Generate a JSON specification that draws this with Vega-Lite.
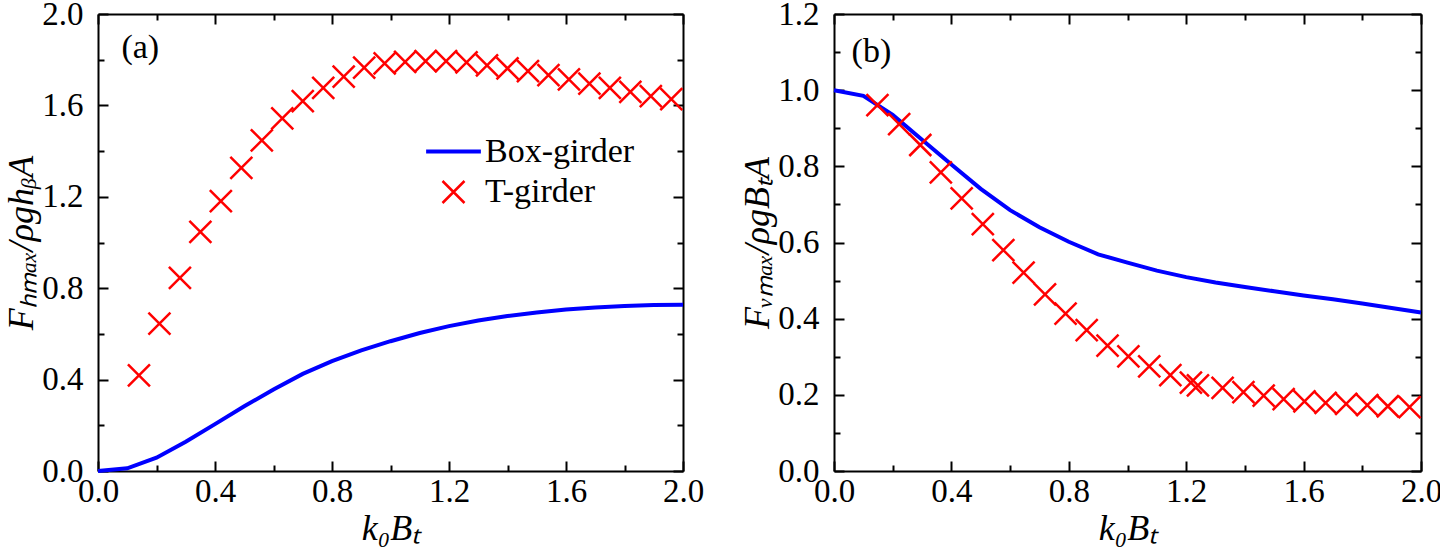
{
  "$schema": "https://vega.github.io/schema/vega-lite/v6.json",
  "padding": {"left": 3, "top": -2, "right": 18, "bottom": 4},
  "background": "white",
  "config": {
    "font": "Liberation Serif",
    "view": {"stroke": null},
    "axis": {
      "grid": false,
      "domainColor": "black",
      "domainWidth": 2,
      "tickColor": "black",
      "tickWidth": 2,
      "labelFont": "Liberation Serif",
      "labelFontSize": 33,
      "labelColor": "black",
      "labelFlush": false,
      "labelOverlap": false,
      "titleFont": "Liberation Serif",
      "titleFontSize": 36,
      "titleFontStyle": "italic",
      "titleFontWeight": "normal",
      "titleColor": "black"
    },
    "legend": {
      "labelFont": "Liberation Serif",
      "labelFontSize": 34,
      "labelColor": "black",
      "labelLimit": 400
    }
  },
  "datasets": {
    "box_a": [
      {"x": 0.0, "y": 0.0, "series": "Box-girder"},
      {"x": 0.1, "y": 0.012, "series": "Box-girder"},
      {"x": 0.2, "y": 0.058, "series": "Box-girder"},
      {"x": 0.3, "y": 0.128, "series": "Box-girder"},
      {"x": 0.4, "y": 0.205, "series": "Box-girder"},
      {"x": 0.5, "y": 0.283, "series": "Box-girder"},
      {"x": 0.6, "y": 0.357, "series": "Box-girder"},
      {"x": 0.7, "y": 0.425, "series": "Box-girder"},
      {"x": 0.8, "y": 0.481, "series": "Box-girder"},
      {"x": 0.9, "y": 0.528, "series": "Box-girder"},
      {"x": 1.0, "y": 0.568, "series": "Box-girder"},
      {"x": 1.1, "y": 0.604, "series": "Box-girder"},
      {"x": 1.2, "y": 0.634, "series": "Box-girder"},
      {"x": 1.3, "y": 0.659, "series": "Box-girder"},
      {"x": 1.4, "y": 0.678, "series": "Box-girder"},
      {"x": 1.5, "y": 0.694, "series": "Box-girder"},
      {"x": 1.6, "y": 0.707, "series": "Box-girder"},
      {"x": 1.7, "y": 0.716, "series": "Box-girder"},
      {"x": 1.8, "y": 0.722, "series": "Box-girder"},
      {"x": 1.9, "y": 0.726, "series": "Box-girder"},
      {"x": 2.0, "y": 0.728, "series": "Box-girder"}
    ],
    "t_a": [
      {"x": 0.14, "y": 0.418, "series": "T-girder"},
      {"x": 0.21, "y": 0.645, "series": "T-girder"},
      {"x": 0.28, "y": 0.845, "series": "T-girder"},
      {"x": 0.35, "y": 1.047, "series": "T-girder"},
      {"x": 0.42, "y": 1.181, "series": "T-girder"},
      {"x": 0.49, "y": 1.327, "series": "T-girder"},
      {"x": 0.56, "y": 1.447, "series": "T-girder"},
      {"x": 0.63, "y": 1.543, "series": "T-girder"},
      {"x": 0.70, "y": 1.619, "series": "T-girder"},
      {"x": 0.77, "y": 1.677, "series": "T-girder"},
      {"x": 0.84, "y": 1.726, "series": "T-girder"},
      {"x": 0.91, "y": 1.765, "series": "T-girder"},
      {"x": 0.98, "y": 1.784, "series": "T-girder"},
      {"x": 1.05, "y": 1.790, "series": "T-girder"},
      {"x": 1.12, "y": 1.794, "series": "T-girder"},
      {"x": 1.19, "y": 1.794, "series": "T-girder"},
      {"x": 1.26, "y": 1.788, "series": "T-girder"},
      {"x": 1.33, "y": 1.775, "series": "T-girder"},
      {"x": 1.40, "y": 1.762, "series": "T-girder"},
      {"x": 1.47, "y": 1.750, "series": "T-girder"},
      {"x": 1.54, "y": 1.733, "series": "T-girder"},
      {"x": 1.61, "y": 1.714, "series": "T-girder"},
      {"x": 1.68, "y": 1.695, "series": "T-girder"},
      {"x": 1.75, "y": 1.677, "series": "T-girder"},
      {"x": 1.82, "y": 1.659, "series": "T-girder"},
      {"x": 1.89, "y": 1.641, "series": "T-girder"},
      {"x": 1.96, "y": 1.627, "series": "T-girder"}
    ],
    "box_b": [
      {"x": 0.0, "y": 1.0},
      {"x": 0.1, "y": 0.985},
      {"x": 0.2, "y": 0.935},
      {"x": 0.3, "y": 0.870},
      {"x": 0.4, "y": 0.805},
      {"x": 0.5, "y": 0.741},
      {"x": 0.6, "y": 0.685},
      {"x": 0.7, "y": 0.640},
      {"x": 0.8, "y": 0.602},
      {"x": 0.9, "y": 0.569},
      {"x": 1.0, "y": 0.547},
      {"x": 1.1, "y": 0.526},
      {"x": 1.2, "y": 0.509},
      {"x": 1.3, "y": 0.495},
      {"x": 1.4, "y": 0.483},
      {"x": 1.5, "y": 0.472},
      {"x": 1.6, "y": 0.461},
      {"x": 1.7, "y": 0.451},
      {"x": 1.8, "y": 0.440},
      {"x": 1.9, "y": 0.428},
      {"x": 2.0, "y": 0.416}
    ],
    "t_b": [
      {"x": 0.148, "y": 0.961},
      {"x": 0.222, "y": 0.911},
      {"x": 0.294, "y": 0.856},
      {"x": 0.364, "y": 0.784},
      {"x": 0.435, "y": 0.716},
      {"x": 0.507, "y": 0.648},
      {"x": 0.577, "y": 0.580},
      {"x": 0.646, "y": 0.521},
      {"x": 0.719, "y": 0.464},
      {"x": 0.789, "y": 0.413},
      {"x": 0.861, "y": 0.370},
      {"x": 0.932, "y": 0.329},
      {"x": 1.003, "y": 0.301},
      {"x": 1.074, "y": 0.275},
      {"x": 1.146, "y": 0.252},
      {"x": 1.216, "y": 0.232},
      {"x": 1.240, "y": 0.225},
      {"x": 1.324, "y": 0.218},
      {"x": 1.395, "y": 0.207},
      {"x": 1.464, "y": 0.198},
      {"x": 1.532, "y": 0.189},
      {"x": 1.603, "y": 0.183},
      {"x": 1.675, "y": 0.179},
      {"x": 1.745, "y": 0.176},
      {"x": 1.817, "y": 0.173},
      {"x": 1.887, "y": 0.170},
      {"x": 1.961, "y": 0.168}
    ],
    "label_a": [{"x": 0.08, "y": 1.85, "t": "(a)"}],
    "label_b": [{"x": 0.06, "y": 1.1, "t": "(b)"}]
  },
  "hconcat": [
    {
      "width": 585,
      "height": 457,
      "layer": [
        {
          "data": {"name": "box_a"},
          "mark": {"type": "line", "strokeWidth": 4},
          "encoding": {
            "x": {
              "field": "x", "type": "quantitative",
              "scale": {"domain": [0, 2], "nice": false, "zero": false},
              "axis": {
                "orient": "bottom",
                "values": [0, 0.2, 0.4, 0.6, 0.8, 1.0, 1.2, 1.4, 1.6, 1.8, 2.0],
                "labelExpr": "round(datum.value*10)%4==0 ? format(datum.value, '.1f') : ''",
                "tickSize": {"condition": {"test": "round(datum.value*10)%4==0", "value": -10}, "value": -6},
                "labelPadding": 14,
                "title": "k₀Bₜ",
                "titlePadding": -1
              }
            },
            "y": {
              "field": "y", "type": "quantitative",
              "scale": {"domain": [0, 2], "nice": false, "zero": false},
              "axis": {
                "orient": "left",
                "values": [0, 0.2, 0.4, 0.6, 0.8, 1.0, 1.2, 1.4, 1.6, 1.8, 2.0],
                "labelExpr": "round(datum.value*10)%4==0 ? format(datum.value, '.1f') : ''",
                "tickSize": {"condition": {"test": "round(datum.value*10)%4==0", "value": -10}, "value": -6},
                "labelPadding": 25,
                "title": "Fₕₘₐₓ/ρghᵦA",
                "titlePadding": 1
              }
            },
            "color": {
              "field": "series", "type": "nominal",
              "scale": {"domain": ["Box-girder", "T-girder"], "range": ["#0000ff", "#ff0000"]},
              "legend": {"title": null, "orient": "none", "legendX": 326, "legendY": 108, "rowPadding": 6, "labelOffset": 2}
            }
          }
        },
        {
          "data": {"name": "t_a"},
          "mark": {"type": "point", "filled": false, "opacity": 1},
          "encoding": {
            "x": {
              "field": "x", "type": "quantitative",
              "scale": {"domain": [0, 2], "nice": false, "zero": false},
              "axis": {
                "orient": "top",
                "values": [0, 0.2, 0.4, 0.6, 0.8, 1.0, 1.2, 1.4, 1.6, 1.8, 2.0],
                "labels": false,
                "tickSize": {"condition": {"test": "round(datum.value*10)%4==0", "value": -10}, "value": -6},
                "title": null
              }
            },
            "y": {
              "field": "y", "type": "quantitative",
              "scale": {"domain": [0, 2], "nice": false, "zero": false},
              "axis": {
                "orient": "right",
                "values": [0, 0.2, 0.4, 0.6, 0.8, 1.0, 1.2, 1.4, 1.6, 1.8, 2.0],
                "labels": false,
                "tickSize": {"condition": {"test": "round(datum.value*10)%4==0", "value": -10}, "value": -6},
                "title": null
              }
            },
            "color": {
              "field": "series", "type": "nominal",
              "scale": {"domain": ["Box-girder", "T-girder"], "range": ["#0000ff", "#ff0000"]}
            },
            "shape": {
              "field": "series", "type": "nominal",
              "scale": {"domain": ["Box-girder", "T-girder"], "range": ["stroke", "M-1,-1L1,1M-1,1L1,-1"]}
            },
            "size": {
              "field": "series", "type": "nominal",
              "scale": {"domain": ["Box-girder", "T-girder"], "range": [3000, 484]}
            },
            "strokeWidth": {
              "field": "series", "type": "nominal",
              "scale": {"domain": ["Box-girder", "T-girder"], "range": [4, 2.5]}
            }
          }
        },
        {
          "data": {"name": "label_a"},
          "mark": {"type": "text", "align": "left", "baseline": "middle", "fontSize": 34, "font": "Liberation Serif", "color": "black"},
          "encoding": {
            "x": {"field": "x", "type": "quantitative", "axis": null},
            "y": {"field": "y", "type": "quantitative", "axis": null},
            "text": {"field": "t"}
          }
        }
      ],
      "resolve": {"axis": {"x": "independent", "y": "independent"}}
    },
    {
      "width": 587,
      "height": 457,
      "layer": [
        {
          "data": {"name": "box_b"},
          "mark": {"type": "line", "strokeWidth": 4, "color": "#0000ff"},
          "encoding": {
            "x": {
              "field": "x", "type": "quantitative",
              "scale": {"domain": [0, 2], "nice": false, "zero": false},
              "axis": {
                "orient": "bottom",
                "values": [0, 0.2, 0.4, 0.6, 0.8, 1.0, 1.2, 1.4, 1.6, 1.8, 2.0],
                "labelExpr": "round(datum.value*10)%4==0 ? format(datum.value, '.1f') : ''",
                "tickSize": {"condition": {"test": "round(datum.value*10)%4==0", "value": -10}, "value": -6},
                "labelPadding": 14,
                "title": "k₀Bₜ",
                "titlePadding": -1
              }
            },
            "y": {
              "field": "y", "type": "quantitative",
              "scale": {"domain": [0, 1.2], "nice": false, "zero": false},
              "axis": {
                "orient": "left",
                "values": [0, 0.1, 0.2, 0.3, 0.4, 0.5, 0.6, 0.7, 0.8, 0.9, 1.0, 1.1, 1.2],
                "labelExpr": "round(datum.value*10)%2==0 ? format(datum.value, '.1f') : ''",
                "tickSize": {"condition": {"test": "round(datum.value*10)%2==0", "value": -10}, "value": -6},
                "labelPadding": 25,
                "title": "Fᵥₘₐₓ/ρgBₜA",
                "titlePadding": 1
              }
            }
          }
        },
        {
          "data": {"name": "t_b"},
          "mark": {"type": "point", "filled": false, "opacity": 1, "shape": "M-1,-1L1,1M-1,1L1,-1", "size": 484, "strokeWidth": 2.5, "color": "#ff0000"},
          "encoding": {
            "x": {
              "field": "x", "type": "quantitative",
              "scale": {"domain": [0, 2], "nice": false, "zero": false},
              "axis": {
                "orient": "top",
                "values": [0, 0.2, 0.4, 0.6, 0.8, 1.0, 1.2, 1.4, 1.6, 1.8, 2.0],
                "labels": false,
                "tickSize": {"condition": {"test": "round(datum.value*10)%4==0", "value": -10}, "value": -6},
                "title": null
              }
            },
            "y": {
              "field": "y", "type": "quantitative",
              "scale": {"domain": [0, 1.2], "nice": false, "zero": false},
              "axis": {
                "orient": "right",
                "values": [0, 0.1, 0.2, 0.3, 0.4, 0.5, 0.6, 0.7, 0.8, 0.9, 1.0, 1.1, 1.2],
                "labels": false,
                "tickSize": {"condition": {"test": "round(datum.value*10)%2==0", "value": -10}, "value": -6},
                "title": null
              }
            }
          }
        },
        {
          "data": {"name": "label_b"},
          "mark": {"type": "text", "align": "left", "baseline": "middle", "fontSize": 34, "font": "Liberation Serif", "color": "black"},
          "encoding": {
            "x": {"field": "x", "type": "quantitative", "axis": null},
            "y": {"field": "y", "type": "quantitative", "axis": null},
            "text": {"field": "t"}
          }
        }
      ],
      "resolve": {"axis": {"x": "independent", "y": "independent"}}
    }
  ],
  "spacing": 35
}
